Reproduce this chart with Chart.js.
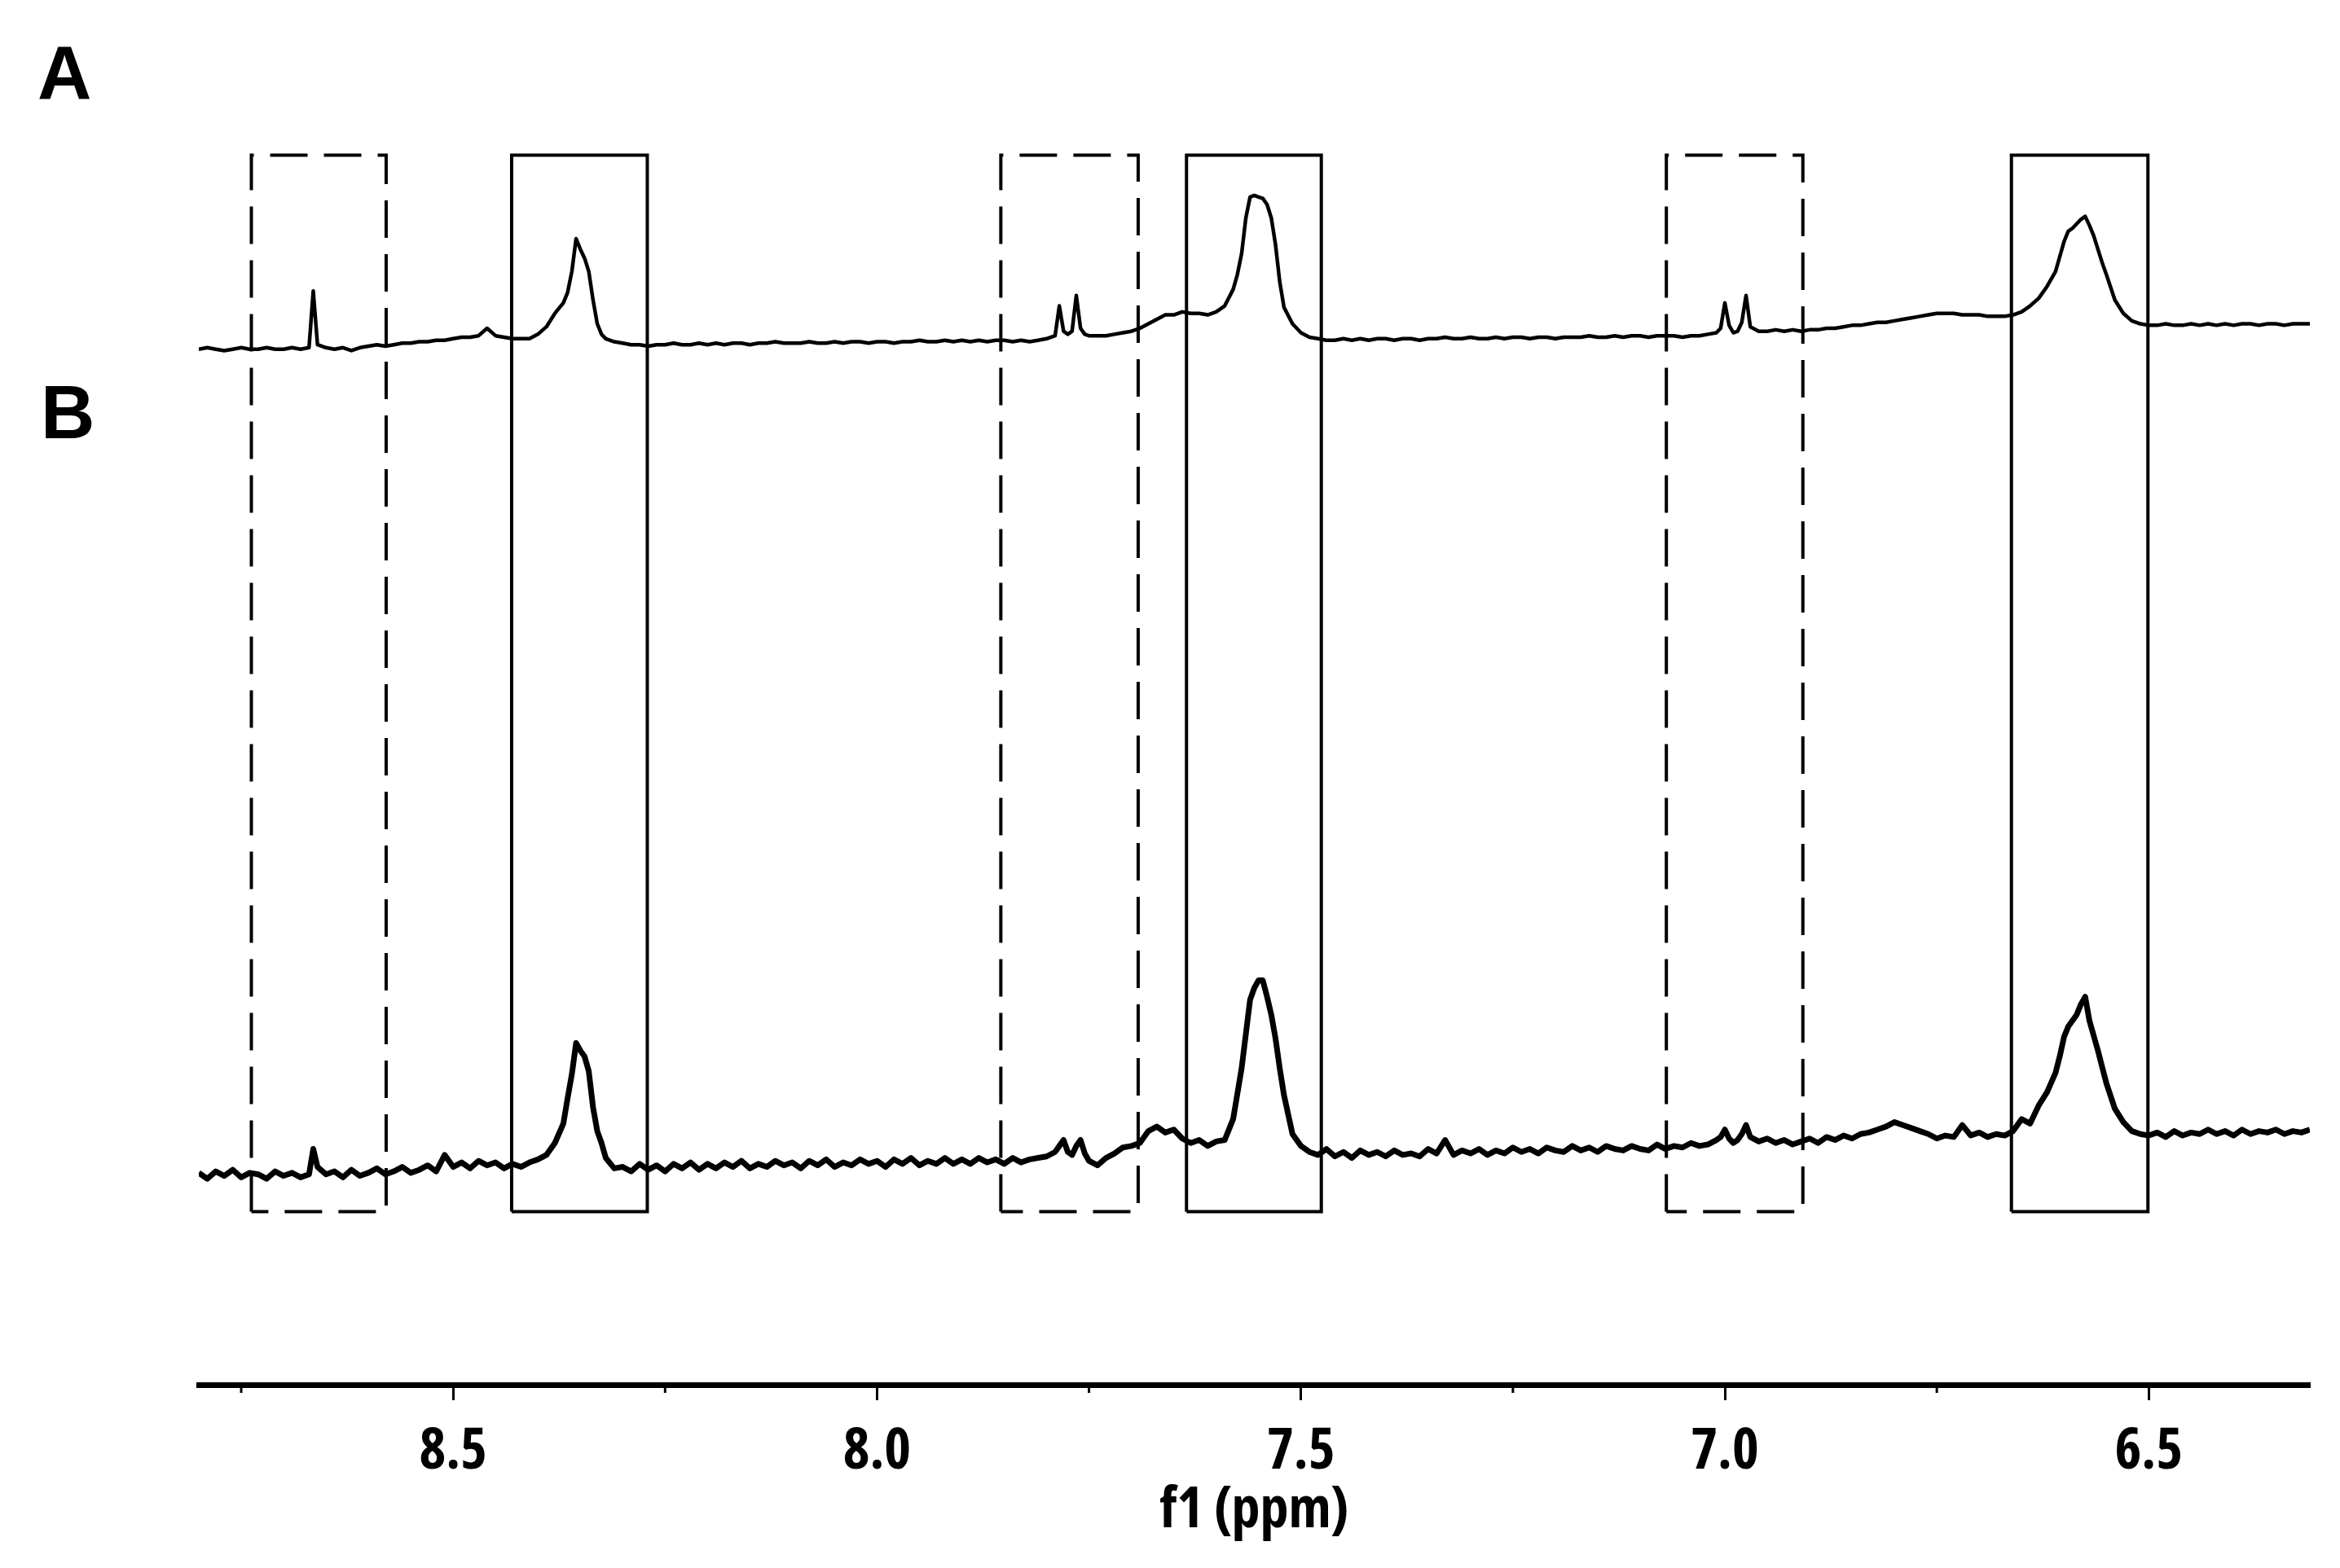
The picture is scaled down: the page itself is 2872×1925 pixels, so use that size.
<!DOCTYPE html>
<html>
<head>
<meta charset="utf-8">
<title>f1 (ppm)</title>
<script src="https://cdn.jsdelivr.net/npm/chart.js@4.4.1/dist/chart.umd.min.js"></script>
<style>
    html, body { margin: 0; padding: 0; background: #fff; }
    canvas { display: block; }
</style>
</head>
<body>
<canvas id="chart" width="2872" height="1925"></canvas>
<script>
// Chemical shift of every sampled point (ppm), shared by both spectra
const shiftPpm = [
    8.80, 8.79, 8.78, 8.77, 8.76, 8.75, 8.74, 8.73, 8.72, 8.71,
    8.70, 8.69, 8.68, 8.67, 8.665, 8.66, 8.65, 8.64, 8.63, 8.62, 8.61,
    8.60, 8.59, 8.58, 8.57, 8.56, 8.55, 8.54, 8.53, 8.52, 8.51,
    8.50, 8.49, 8.48, 8.47, 8.46, 8.45, 8.44, 8.43, 8.42, 8.41,
    8.40, 8.39, 8.38, 8.37, 8.365, 8.36, 8.355, 8.35, 8.345, 8.34, 8.335, 8.33, 8.325, 8.32, 8.31,
    8.30, 8.29, 8.28, 8.27, 8.26, 8.25, 8.24, 8.23, 8.22, 8.21,
    8.20, 8.19, 8.18, 8.17, 8.16, 8.15, 8.14, 8.13, 8.12, 8.11,
    8.10, 8.09, 8.08, 8.07, 8.06, 8.05, 8.04, 8.03, 8.02, 8.01,
    8.00, 7.99, 7.98, 7.97, 7.96, 7.95, 7.94, 7.93, 7.92, 7.91,
    7.90, 7.89, 7.88, 7.87, 7.86, 7.85, 7.84, 7.83, 7.82, 7.81,
    7.80, 7.79, 7.785, 7.78, 7.775, 7.77, 7.765, 7.76, 7.755, 7.75, 7.74, 7.73, 7.72, 7.71,
    7.70, 7.69, 7.68, 7.67, 7.66, 7.65, 7.64, 7.63, 7.62, 7.61,
    7.60, 7.59, 7.58, 7.575, 7.57, 7.565, 7.56, 7.555, 7.55, 7.545, 7.54, 7.535, 7.53, 7.525, 7.52, 7.51,
    7.50, 7.49, 7.48, 7.47, 7.46, 7.45, 7.44, 7.43, 7.42, 7.41,
    7.40, 7.39, 7.38, 7.37, 7.36, 7.35, 7.34, 7.33, 7.32, 7.31,
    7.30, 7.29, 7.28, 7.27, 7.26, 7.25, 7.24, 7.23, 7.22, 7.21,
    7.20, 7.19, 7.18, 7.17, 7.16, 7.15, 7.14, 7.13, 7.12, 7.11,
    7.10, 7.09, 7.08, 7.07, 7.06, 7.05, 7.04, 7.03, 7.02, 7.01,
    7.005, 7.00, 6.995, 6.99, 6.985, 6.98, 6.975, 6.97, 6.96, 6.95, 6.94, 6.93, 6.92, 6.91,
    6.90, 6.89, 6.88, 6.87, 6.86, 6.85, 6.84, 6.83, 6.82, 6.81,
    6.80, 6.79, 6.78, 6.77, 6.76, 6.75, 6.74, 6.73, 6.72, 6.71,
    6.70, 6.69, 6.68, 6.67, 6.66, 6.65, 6.64, 6.63, 6.62, 6.61,
    6.605, 6.60, 6.595, 6.59, 6.585, 6.58, 6.575, 6.57, 6.565, 6.56, 6.555, 6.55, 6.54, 6.53, 6.52, 6.51,
    6.50, 6.49, 6.48, 6.47, 6.46, 6.45, 6.44, 6.43, 6.42, 6.41,
    6.40, 6.39, 6.38, 6.37, 6.36, 6.35, 6.34, 6.33, 6.32, 6.31
];

// Spectrum A intensity (arbitrary units), same order as shiftPpm
const spectrumA = [
    0, 1, 0, -1, 0, 1, 0, 0, 1, 0,
    0, 1, 0, 1, 39, 3, 1, 0, 1, -1, 1,
    2, 3, 2, 3, 4, 4, 5, 5, 6, 6,
    7, 8, 8, 9, 14, 9, 8, 7, 7, 7,
    10, 15, 24, 31, 38, 52, 74, 67, 61, 52, 33, 17, 10, 7, 5,
    4, 3, 3, 2, 3, 3, 4, 3, 3, 4,
    3, 4, 3, 4, 4, 3, 4, 4, 5, 4,
    4, 4, 5, 4, 4, 5, 4, 5, 5, 4,
    5, 5, 4, 5, 5, 6, 5, 5, 6, 5,
    6, 5, 6, 5, 6, 6, 5, 6, 5, 6,
    7, 9, 29, 12, 10, 12, 36, 14, 10, 9, 9, 9, 10, 11,
    12, 14, 17, 20, 23, 23, 25, 24, 24, 23,
    25, 29, 40, 50, 64, 88, 102, 103, 102, 101, 97, 88, 70, 45, 28, 17,
    11, 8, 7, 6, 6, 7, 6, 7, 6, 7,
    7, 6, 7, 7, 6, 7, 7, 8, 7, 7,
    8, 7, 7, 8, 7, 8, 8, 7, 8, 8,
    7, 8, 8, 8, 9, 8, 8, 9, 8, 9,
    9, 8, 9, 9, 9, 8, 9, 9, 10, 11,
    14, 31, 16, 11, 12, 18, 36, 15, 12, 12, 13, 12, 13, 12,
    13, 13, 14, 14, 15, 16, 16, 17, 18, 18,
    19, 20, 21, 22, 23, 24, 24, 24, 23, 23,
    23, 22, 22, 22, 23, 25, 29, 34, 42, 52,
    62, 72, 79, 81, 84, 87, 89, 83, 76, 67, 58, 50, 33, 24, 19, 17,
    16, 16, 17, 16, 16, 17, 16, 17, 16, 17,
    16, 17, 17, 16, 17, 17, 16, 17, 17, 17
];

// Spectrum B intensity (arbitrary units), same order as shiftPpm
const spectrumB = [
    2, -2, 3, 0, 4, -1, 2, 1, -2, 3,
    0, 2, -1, 1, 18, 6, 1, 3, -1, 4, 0,
    2, 5, 1, 3, 6, 2, 4, 7, 3, 14,
    6, 9, 5, 10, 7, 9, 5, 8, 6, 9,
    11, 14, 22, 35, 52, 68, 89, 84, 80, 70, 46, 30, 22, 12, 5,
    6, 3, 8, 4, 7, 3, 8, 5, 9, 4,
    8, 5, 9, 6, 10, 5, 8, 6, 10, 7,
    9, 5, 10, 7, 11, 6, 9, 7, 11, 8,
    10, 6, 11, 8, 12, 7, 10, 8, 12, 8,
    11, 8, 12, 9, 11, 8, 12, 9, 11, 12,
    13, 16, 20, 24, 16, 14, 20, 24, 15, 10, 7, 12, 15, 19,
    20, 22, 30, 33, 29, 31, 25, 22, 24, 20,
    23, 24, 38, 55, 72, 95, 118, 126, 131, 131, 120, 108, 92, 72, 54, 28,
    20, 16, 14, 18, 13, 16, 12, 17, 14, 16,
    13, 17, 14, 15, 13, 18, 15, 24, 14, 17,
    15, 18, 14, 17, 15, 19, 16, 18, 15, 19,
    17, 16, 20, 17, 19, 16, 20, 18, 17, 20,
    18, 17, 21, 18, 20, 19, 22, 20, 21, 24,
    26, 31, 25, 22, 24, 28, 34, 26, 23, 25, 22, 24, 21, 23,
    25, 22, 26, 24, 27, 25, 28, 29, 31, 33,
    36, 34, 32, 30, 28, 25, 27, 26, 34, 27,
    29, 26, 28, 27, 30, 38, 35, 47, 56, 69,
    80, 93, 100, 104, 108, 115, 120, 104, 94, 84, 73, 62, 45, 36, 30, 28,
    27, 29, 26, 30, 27, 29, 28, 31, 28, 30,
    27, 31, 28, 30, 29, 31, 28, 30, 29, 31
];

// Marked regions (ppm): dashed = impurity signals, solid = main signals
const regionStart = [8.738, 8.431, 7.854, 7.635, 7.069, 6.662];
const regionEnd   = [8.579, 8.271, 7.692, 7.476, 6.908, 6.501];
const regionDashed = [true, false, true, false, true, false];

// Axis
const majorTicks = [8.5, 8.0, 7.5, 7.0, 6.5];
const minorTicks = [8.75, 8.25, 7.75, 7.25, 6.75];
const panelLetters = ['A', 'B'];

// Layout constants (vertical units of the hidden y scale)
const Y_MAX = 928;
const OFFSET_A = 694;
const OFFSET_B = 140;
const REGION_TOP = 824;
const REGION_BOTTOM = 116;

if (spectrumA.length !== shiftPpm.length || spectrumB.length !== shiftPpm.length) {
    console.warn('length mismatch', shiftPpm.length, spectrumA.length, spectrumB.length);
}

// The axis text in the original is a narrow bold face.
// Try a few narrow options and keep the installed one whose "8.5" is closest to ~82px wide at 70px.
function pickAxisFont() {
    const probe = document.createElement('canvas').getContext('2d');
    const candidates = [
        { weight: 'bold', family: "'Liberation Sans Narrow'" },
        { weight: 'bold condensed', family: "'Noto Sans'" },
        { weight: 'bold semi-condensed', family: "'Noto Sans'" },
        { weight: 'bold extra-condensed', family: "'Noto Sans'" },
        { weight: 'bold', family: "'Noto Sans Condensed'" },
        { weight: 'bold', family: "'Noto Sans SemiCondensed'" },
        { weight: 'bold condensed', family: "'Open Sans'" },
        { weight: 'bold condensed', family: "'Roboto'" },
        { weight: 'bold', family: "'Roboto Condensed'" },
        { weight: 'bold', family: "'DejaVu Sans Condensed'" }
    ];
    let best = { weight: 'bold', family: "'DejaVu Sans Condensed', sans-serif" };
    let bestDiff = Infinity;
    candidates.forEach(c => {
        let widths = ['monospace', 'serif'].map(fb => {
            probe.font = '10px cursive';
            probe.font = c.weight + ' 70px ' + c.family + ', ' + fb;
            if (probe.font.indexOf('70px') < 0) return -1;
            return probe.measureText('8.5').width;
        });
        if (widths[0] < 0 || Math.abs(widths[0] - widths[1]) > 0.5) return; // not installed / not parsed
        let diff = Math.abs(widths[0] - 82);
        if (diff < bestDiff) {
            bestDiff = diff;
            best = { weight: c.weight, family: c.family + ', sans-serif' };
        }
    });
    return best;
}
const axisFont = pickAxisFont();

function spectrumPoints(values, offset) {
    return values.map((v, i) => ({ x: shiftPpm[i], y: v + offset }));
}

let datasets = [
    {
        label: 'A',
        data: spectrumPoints(spectrumA, OFFSET_A),
        borderColor: '#000',
        borderWidth: 4.5,
    },
    {
        label: 'B',
        data: spectrumPoints(spectrumB, OFFSET_B),
        borderColor: '#000',
        borderWidth: 7,
    }
];

// one closed outline per marked region
regionStart.forEach((start, i) => {
    let end = regionEnd[i];
    datasets.push({
        label: 'region' + i,
        data: [
            { x: start, y: REGION_BOTTOM },
            { x: start, y: REGION_TOP },
            { x: end, y: REGION_TOP },
            { x: end, y: REGION_BOTTOM },
            { x: start, y: REGION_BOTTOM }
        ],
        borderColor: '#000',
        borderWidth: 4,
        borderDash: regionDashed[i] ? [46, 20] : [],
        borderJoinStyle: 'miter',
        borderCapStyle: 'butt',
    });
});

// short minor ticks + the A / B panel letters
const extrasPlugin = {
    id: 'extras',
    afterDraw(chart) {
        const { ctx, chartArea, scales } = chart;
        ctx.save();
        ctx.strokeStyle = '#000';
        ctx.lineWidth = 3;
        minorTicks.forEach(v => {
            let px = scales.x.getPixelForValue(v);
            ctx.beginPath();
            ctx.moveTo(px, chartArea.bottom);
            ctx.lineTo(px, chartArea.bottom + 10);
            ctx.stroke();
        });

        ctx.fillStyle = '#000';
        ctx.font = "bold 92px 'Liberation Sans', Arial, sans-serif";
        ctx.textBaseline = 'alphabetic';
        ctx.textAlign = 'left';
        ctx.fillText(panelLetters[0], 46, 121);
        ctx.fillText(panelLetters[1], 50, 538);
        ctx.restore();
    }
};

const ctx = document.getElementById('chart').getContext('2d');
const nmrChart = new Chart(ctx, {
    type: 'line',
    data: { datasets: datasets },
    plugins: [extrasPlugin],
    options: {
        responsive: false,
        animation: false,
        devicePixelRatio: 1,
        events: [],
        elements: {
            point: { radius: 0 },
            line: { tension: 0, fill: false, borderJoinStyle: 'round' }
        },
        layout: {
            padding: { left: 244, right: 37, top: 0, bottom: 0 }
        },
        plugins: {
            legend: { display: false },
            tooltip: { enabled: false }
        },
        scales: {
            x: {
                type: 'linear',
                reverse: true,
                min: 6.31,
                max: 8.80,
                afterFit: (scale) => { scale.height = 225; },
                border: { display: true, color: '#000', width: 7 },
                grid: {
                    display: true,
                    drawOnChartArea: false,
                    drawTicks: true,
                    tickLength: 19,
                    tickWidth: 3,
                    tickColor: '#000',
                    color: '#000'
                },
                ticks: {
                    stepSize: 0.5,
                    includeBounds: false,
                    autoSkip: false,
                    maxRotation: 0,
                    padding: 22,
                    color: '#000',
                    font: { family: axisFont.family, size: 70, weight: axisFont.weight },
                    callback: (value) => majorTicks.includes(+value.toFixed(2)) ? Number(value).toFixed(1) : ''
                },
                title: {
                    display: true,
                    text: 'f1 (ppm)',
                    color: '#000',
                    font: { family: axisFont.family, size: 70, weight: axisFont.weight },
                    padding: { top: 0, bottom: 28 }
                }
            },
            y: {
                display: false,
                min: 0,
                max: Y_MAX
            }
        }
    }
});
</script>
</body>
</html>
